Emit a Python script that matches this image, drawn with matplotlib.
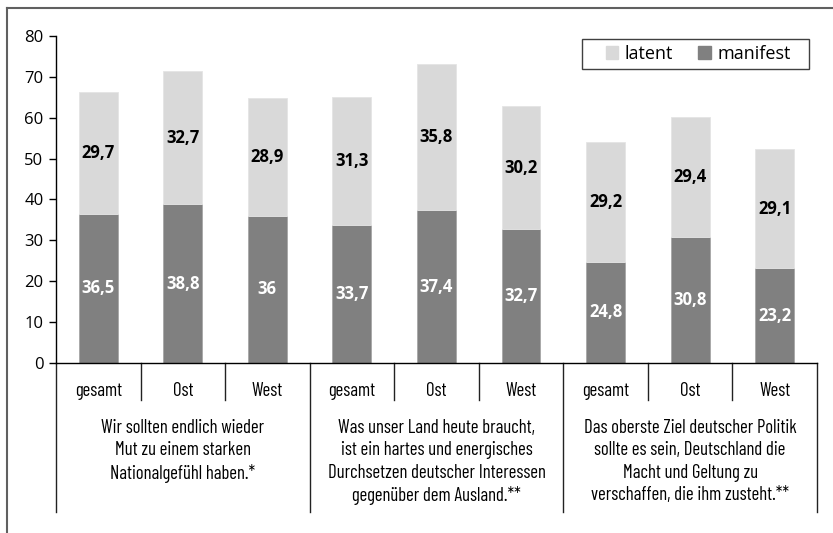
import numpy as np
import matplotlib.pyplot as plt
from matplotlib.lines import Line2D
from matplotlib.patches import Patch, Rectangle

# data
regions = ['gesamt', 'Ost', 'West'] * 3
statements = ['Wir sollten endlich wieder\nMut zu einem starken\nNationalgefühl haben.*',
              'Was unser Land heute braucht,\nist ein hartes und energisches\nDurchsetzen deutscher Interessen\ngegenüber dem Ausland.**',
              'Das oberste Ziel deutscher Politik\nsollte es sein, Deutschland die\nMacht und Geltung zu\nverschaffen, die ihm zusteht.**']
manifest = np.array([36.5, 38.8, 36, 33.7, 37.4, 32.7, 24.8, 30.8, 23.2])
latent = np.array([29.7, 32.7, 28.9, 31.3, 35.8, 30.2, 29.2, 29.4, 29.1])

def fmt(v):
    s = ('%.1f' % v).rstrip('0').rstrip('.')
    return s.replace('.', ',')

narrow = ['Barlow Condensed', 'Fira Sans Condensed', 'DejaVu Sans']
plain = ['Open Sans', 'DejaVu Sans']

fig = plt.figure(figsize=(8.33, 5.33), dpi=100)
ax = fig.add_axes([0.0672, 0.319, 0.9136, 0.6135])

x = np.arange(len(regions))
ax.bar(x, manifest, width=0.46, color='#808080', edgecolor='#a6a6a6', linewidth=0.6, label='manifest')
ax.bar(x, latent, width=0.46, bottom=manifest, color='#d9d9d9', edgecolor='#e4e4e4', linewidth=0.6, label='latent')

for i in range(len(x)):
    ax.text(x[i], manifest[i] / 2, fmt(manifest[i]), ha='center', va='center',
            color='white', fontsize=12, fontweight='bold', family=plain)
    ax.text(x[i], manifest[i] + latent[i] / 2, fmt(latent[i]), ha='center', va='center',
            color='black', fontsize=12, fontweight='bold', family=plain)

ax.set_xlim(-0.5, 8.5)
ax.set_ylim(0, 80)
ax.set_yticks(np.arange(0, 81, 10))
ax.tick_params(axis='y', length=5, width=1, labelsize=12, pad=4)
for lab in ax.get_yticklabels():
    lab.set_family(plain)
ax.set_xticks([])
for s in ['top', 'right']:
    ax.spines[s].set_visible(False)
ax.spines['left'].set_linewidth(1)
ax.spines['bottom'].set_linewidth(1)

# multi-level category axis
tr = ax.get_xaxis_transform()
for b in np.arange(-0.5, 9, 1):
    low = -0.456 if (b + 0.5) % 3 == 0 else -0.113
    ax.add_line(Line2D([b, b], [0, low], transform=tr, color='#222222', lw=1, clip_on=False))
for i in range(len(x)):
    ax.text(x[i], -0.085, regions[i], transform=tr, ha='center', va='center',
            fontsize=13.5, family=narrow)
for g in range(3):
    ax.text(3 * g + 1, -0.172, statements[g], transform=tr, ha='center', va='top',
            fontsize=13.5, family=narrow, linespacing=1.3)

# legend (frame drawn separately for its wide side padding)
handles = [Patch(color='#d9d9d9'), Patch(color='#808080')]
ax.legend(handles, ['latent', 'manifest'], loc='center', ncol=2,
          bbox_to_anchor=(698 / 833, 1 - 54 / 533), bbox_transform=fig.transFigure,
          frameon=False, prop={'family': plain, 'size': 13},
          handlelength=0.7, handleheight=0.7, handletextpad=0.35, columnspacing=1.4)
fig.add_artist(Rectangle((582 / 833, 1 - 69 / 533), 227 / 833, 30 / 533, transform=fig.transFigure,
                         fill=False, edgecolor='#404040', lw=1))

# outer frame
fig.add_artist(Line2D([7 / 833, 7 / 833], [0, 1 - 8 / 533], transform=fig.transFigure, color='#606060', lw=1.5))
fig.add_artist(Line2D([7 / 833, 1], [1 - 8 / 533, 1 - 8 / 533], transform=fig.transFigure, color='#606060', lw=1.5))

fig.savefig('out.png', dpi=100)
